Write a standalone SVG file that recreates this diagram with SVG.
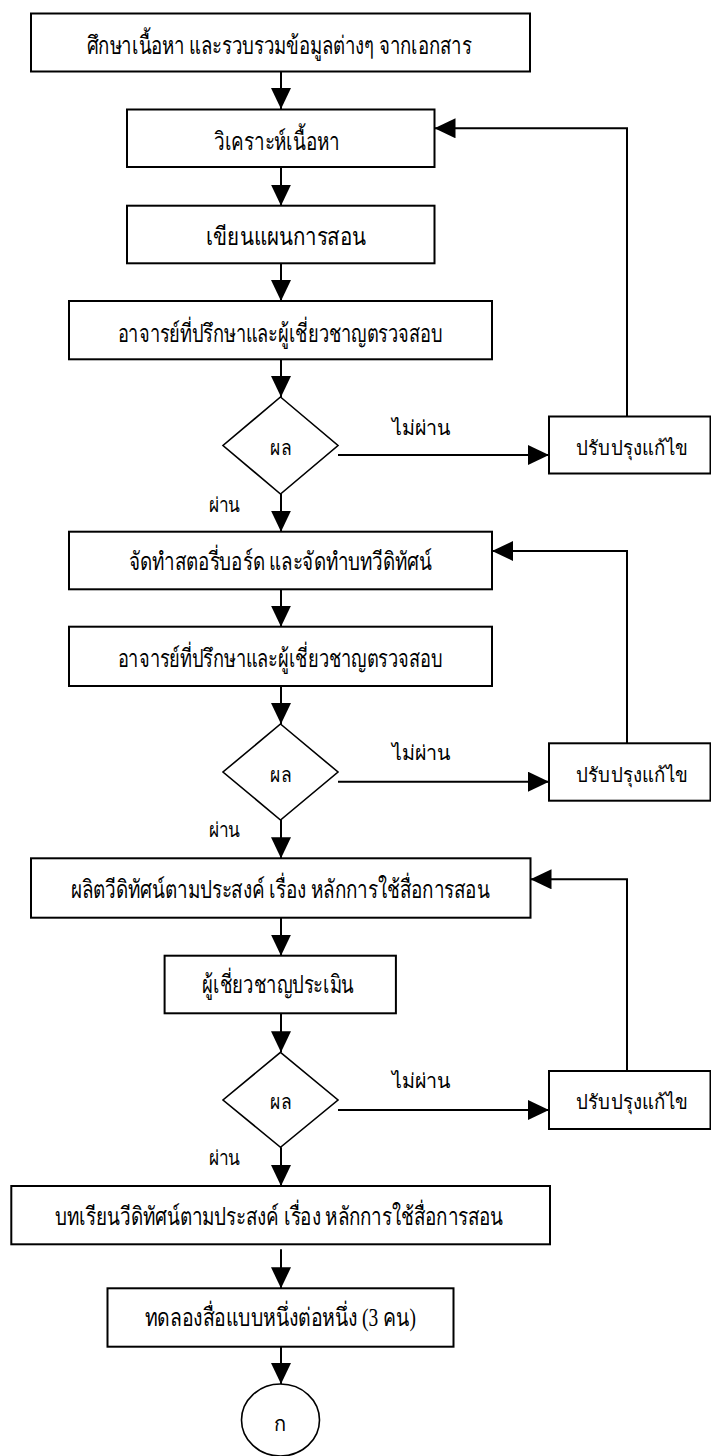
<svg xmlns="http://www.w3.org/2000/svg" width="711" height="1456" viewBox="0 0 711 1456">
<style>
.box{fill:#fff;stroke:#000;stroke-width:2}
.dia{fill:#fff;stroke:#000;stroke-width:1.6}
.ln{fill:none;stroke:#000;stroke-width:2}
.t{font-family:"Liberation Serif",serif;font-size:25px;fill:#000;text-anchor:middle}
.r{font-family:"Liberation Serif",serif;font-size:20px;fill:#000;text-anchor:middle}
.s{font-family:"Noto Sans","DejaVu Sans",sans-serif;font-size:20px;fill:#000;text-anchor:middle}
</style>
<defs>
<marker id="ah" markerUnits="userSpaceOnUse" markerWidth="21" markerHeight="20" refX="21" refY="10" orient="auto" viewBox="0 0 21 20">
<path d="M0,0 L21,10 L0,20 z" fill="#000"/>
</marker>
</defs>
<rect width="711" height="1456" fill="#fff"/>
<g id="connectors">
<line class="ln" x1="281" y1="71" x2="281" y2="109" marker-end="url(#ah)"/>
<line class="ln" x1="281" y1="167" x2="281" y2="205.7" marker-end="url(#ah)"/>
<line class="ln" x1="281" y1="263.3" x2="281" y2="301" marker-end="url(#ah)"/>
<line class="ln" x1="281" y1="359.3" x2="281" y2="397" marker-end="url(#ah)"/>
<line class="ln" x1="281" y1="494" x2="281" y2="531.7" marker-end="url(#ah)"/>
<line class="ln" x1="281" y1="589.3" x2="281" y2="626.7" marker-end="url(#ah)"/>
<line class="ln" x1="281" y1="686" x2="281" y2="724" marker-end="url(#ah)"/>
<line class="ln" x1="281" y1="820" x2="281" y2="858.3" marker-end="url(#ah)"/>
<line class="ln" x1="281" y1="917.7" x2="281" y2="955.7" marker-end="url(#ah)"/>
<line class="ln" x1="281" y1="1013.3" x2="281" y2="1052.3" marker-end="url(#ah)"/>
<line class="ln" x1="281" y1="1147.3" x2="281" y2="1186" marker-end="url(#ah)"/>
<line class="ln" x1="281" y1="1249.3" x2="281" y2="1288.3" marker-end="url(#ah)"/>
<line class="ln" x1="281" y1="1346.7" x2="281" y2="1384" marker-end="url(#ah)"/>
<line class="ln" x1="338" y1="455" x2="549" y2="455" marker-end="url(#ah)"/>
<line class="ln" x1="338" y1="781.7" x2="549" y2="781.7" marker-end="url(#ah)"/>
<line class="ln" x1="338" y1="1110" x2="549" y2="1110" marker-end="url(#ah)"/>
<polyline class="ln" points="627,416.5 627,128.3 434.5,128.3" marker-end="url(#ah)"/>
<polyline class="ln" points="627,743.3 627,551 492,551" marker-end="url(#ah)"/>
<polyline class="ln" points="627,1071 627,879.3 530.5,879.3" marker-end="url(#ah)"/>
<text class="s" x="421.5" y="435" textLength="59" lengthAdjust="spacingAndGlyphs">ไม่ผ่าน</text>
<text class="s" x="421.5" y="760" textLength="59" lengthAdjust="spacingAndGlyphs">ไม่ผ่าน</text>
<text class="s" x="421.5" y="1088" textLength="59" lengthAdjust="spacingAndGlyphs">ไม่ผ่าน</text>
<text class="s" x="224.5" y="512" textLength="32" lengthAdjust="spacingAndGlyphs">ผ่าน</text>
<text class="s" x="224.5" y="837" textLength="32" lengthAdjust="spacingAndGlyphs">ผ่าน</text>
<text class="s" x="224.5" y="1165" textLength="32" lengthAdjust="spacingAndGlyphs">ผ่าน</text>
</g>
<g id="n1"><rect class="box" x="31" y="13.5" width="499" height="58"/><text class="t" x="279" y="54" textLength="385" lengthAdjust="spacingAndGlyphs">ศึกษาเนื้อหา และรวบรวมข้อมูลต่างๆ จากเอกสาร</text></g>
<g id="n2"><rect class="box" x="127" y="109.5" width="307.5" height="57.5"/><text class="t" x="277" y="150" textLength="126" lengthAdjust="spacingAndGlyphs">วิเคราะห์เนื้อหา</text></g>
<g id="n3"><rect class="box" x="127" y="205.7" width="307.5" height="57.6"/><text class="t" x="286" y="245" textLength="160" lengthAdjust="spacingAndGlyphs">เขียนแผนการสอน</text></g>
<g id="n4"><rect class="box" x="69" y="301" width="423" height="58.3"/><text class="t" x="280" y="342" textLength="325" lengthAdjust="spacingAndGlyphs">อาจารย์ที่ปรึกษาและผู้เชี่ยวชาญตรวจสอบ</text></g>
<g id="d1"><polygon class="dia" points="280.5,397 338,445.5 280.5,494 223,445.5"/><text class="s" x="280.5" y="455" textLength="21" lengthAdjust="spacingAndGlyphs">ผล</text></g>
<g id="r1"><rect class="box" x="549" y="416.5" width="161.5" height="57"/><text class="r" x="632" y="455" textLength="112" lengthAdjust="spacingAndGlyphs">ปรับปรุงแก้ไข</text></g>
<g id="n5"><rect class="box" x="69" y="531.7" width="423" height="57.6"/><text class="t" x="280.5" y="570" textLength="303" lengthAdjust="spacingAndGlyphs">จัดทำสตอรี่บอร์ด และจัดทำบทวีดิทัศน์</text></g>
<g id="n6"><rect class="box" x="69" y="626.7" width="423" height="59.3"/><text class="t" x="280" y="667" textLength="325" lengthAdjust="spacingAndGlyphs">อาจารย์ที่ปรึกษาและผู้เชี่ยวชาญตรวจสอบ</text></g>
<g id="d2"><polygon class="dia" points="280.5,724 338,772 280.5,820 223,772"/><text class="s" x="280.5" y="781.5" textLength="21" lengthAdjust="spacingAndGlyphs">ผล</text></g>
<g id="r2"><rect class="box" x="549" y="743.3" width="161.5" height="57.4"/><text class="r" x="632" y="781.7" textLength="112" lengthAdjust="spacingAndGlyphs">ปรับปรุงแก้ไข</text></g>
<g id="n7"><rect class="box" x="31" y="858.3" width="499.5" height="59.4"/><text class="t" x="280" y="898" textLength="419" lengthAdjust="spacingAndGlyphs">ผลิตวีดิทัศน์ตามประสงค์ เรื่อง หลักการใช้สื่อการสอน</text></g>
<g id="n8"><rect class="box" x="164.6" y="955.7" width="231.3" height="57.6"/><text class="t" x="278" y="993" textLength="152" lengthAdjust="spacingAndGlyphs">ผู้เชี่ยวชาญประเมิน</text></g>
<g id="d3"><polygon class="dia" points="280.5,1052.3 338,1100 280.5,1147.3 223,1100"/><text class="s" x="280.5" y="1108.5" textLength="21" lengthAdjust="spacingAndGlyphs">ผล</text></g>
<g id="r3"><rect class="box" x="549" y="1071" width="161.5" height="58"/><text class="r" x="632" y="1109" textLength="112" lengthAdjust="spacingAndGlyphs">ปรับปรุงแก้ไข</text></g>
<g id="n9"><rect class="box" x="11.3" y="1186" width="538.7" height="58.3"/><text class="t" x="279.3" y="1225" textLength="448" lengthAdjust="spacingAndGlyphs">บทเรียนวีดิทัศน์ตามประสงค์ เรื่อง หลักการใช้สื่อการสอน</text></g>
<g id="n10"><rect class="box" x="107.5" y="1288.3" width="346" height="58.4"/><text class="t" x="280.5" y="1326" textLength="271" lengthAdjust="spacingAndGlyphs">ทดลองสื่อแบบหนึ่งต่อหนึ่ง (3 คน)</text></g>
<g id="c1"><ellipse class="dia" cx="280.5" cy="1420" rx="39" ry="36"/><text class="s" x="280.4" y="1431">ก</text></g>
</svg>
